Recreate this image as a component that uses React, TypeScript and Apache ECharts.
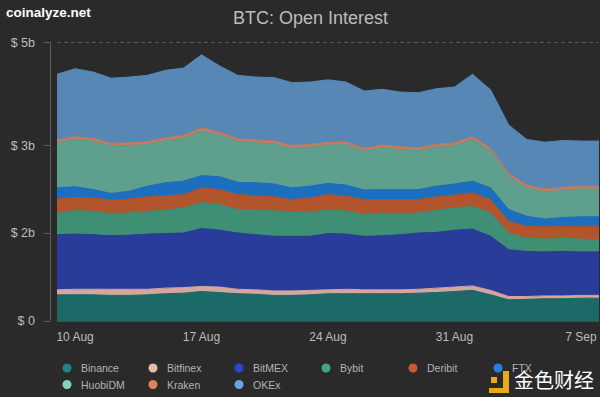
import React, { useEffect, useRef } from "react";
import * as echarts from "echarts";

const categories = [
  "9 Aug", "10 Aug", "11 Aug", "12 Aug", "13 Aug", "14 Aug", "15 Aug", "16 Aug",
  "17 Aug", "18 Aug", "19 Aug", "20 Aug", "21 Aug", "22 Aug", "23 Aug", "24 Aug",
  "25 Aug", "26 Aug", "27 Aug", "28 Aug", "29 Aug", "30 Aug", "31 Aug", "1 Sep",
  "2 Sep", "3 Sep", "4 Sep", "5 Sep", "6 Sep", "7 Sep", "8 Sep",
];
const xLabelIndices = [1, 8, 15, 22, 29];

const binance = [0.47, 0.47, 0.47, 0.46, 0.46, 0.47, 0.49, 0.5, 0.53, 0.51, 0.49, 0.48, 0.46, 0.46, 0.47, 0.49, 0.49, 0.49, 0.49, 0.49, 0.5, 0.51, 0.53, 0.55, 0.47, 0.38, 0.39, 0.4, 0.4, 0.41, 0.41];
const bitfinex = [0.09, 0.1, 0.1, 0.11, 0.11, 0.1, 0.1, 0.1, 0.09, 0.1, 0.08, 0.08, 0.08, 0.08, 0.08, 0.07, 0.08, 0.07, 0.07, 0.07, 0.07, 0.08, 0.08, 0.08, 0.08, 0.06, 0.05, 0.05, 0.05, 0.05, 0.05];
const bitmex = [0.99, 0.99, 0.98, 0.96, 0.97, 0.99, 0.98, 0.98, 1.04, 1.02, 1.01, 0.99, 0.98, 0.98, 0.97, 1.01, 0.99, 0.96, 0.97, 0.99, 1.01, 1.0, 1.02, 1.02, 0.97, 0.84, 0.81, 0.79, 0.8, 0.78, 0.78];
const bybit = [0.39, 0.42, 0.42, 0.4, 0.4, 0.41, 0.42, 0.45, 0.47, 0.46, 0.42, 0.45, 0.46, 0.44, 0.43, 0.43, 0.42, 0.39, 0.41, 0.38, 0.36, 0.4, 0.4, 0.41, 0.42, 0.3, 0.24, 0.23, 0.24, 0.23, 0.22];
const deribit = [0.25, 0.24, 0.24, 0.24, 0.25, 0.26, 0.26, 0.24, 0.26, 0.27, 0.27, 0.25, 0.25, 0.22, 0.26, 0.27, 0.26, 0.27, 0.24, 0.25, 0.24, 0.24, 0.23, 0.24, 0.24, 0.21, 0.21, 0.22, 0.21, 0.23, 0.24];
const ftx = [0.2, 0.19, 0.15, 0.12, 0.14, 0.19, 0.23, 0.24, 0.22, 0.23, 0.22, 0.23, 0.23, 0.21, 0.21, 0.2, 0.2, 0.17, 0.18, 0.18, 0.18, 0.19, 0.2, 0.21, 0.21, 0.21, 0.18, 0.14, 0.16, 0.17, 0.17];
const huobidm = [0.81, 0.85, 0.87, 0.85, 0.82, 0.75, 0.76, 0.77, 0.8, 0.75, 0.73, 0.72, 0.72, 0.71, 0.7, 0.69, 0.73, 0.7, 0.75, 0.72, 0.7, 0.7, 0.69, 0.75, 0.66, 0.6, 0.51, 0.49, 0.49, 0.5, 0.5];
const kraken = [0.05, 0.05, 0.05, 0.05, 0.05, 0.05, 0.05, 0.05, 0.06, 0.05, 0.05, 0.05, 0.05, 0.05, 0.05, 0.05, 0.05, 0.05, 0.05, 0.05, 0.05, 0.05, 0.05, 0.05, 0.05, 0.05, 0.05, 0.05, 0.05, 0.05, 0.05];
const okex = [1.18, 1.22, 1.19, 1.17, 1.18, 1.19, 1.21, 1.21, 1.31, 1.19, 1.14, 1.13, 1.14, 1.13, 1.12, 1.12, 1.07, 1.03, 1.0, 0.98, 0.99, 1.0, 1.0, 1.12, 1.05, 0.87, 0.82, 0.84, 0.84, 0.81, 0.81];

const yTickValues = [0, 1.58, 3.15, 5];
const yTickLabels = ["$ 0", "$ 2b", "$ 3b", "$ 5b"];
const yMax = 5;

const seriesNames = ["Binance", "Bitfinex", "BitMEX", "Bybit", "Deribit", "FTX", "HuobiDM", "Kraken", "OKEx"];
const seriesValues = [binance, bitfinex, bitmex, bybit, deribit, ftx, huobidm, kraken, okex];
const legendColors = ["#1f8580", "#e6bcae", "#2a45cf", "#45a583", "#c95a32", "#2582dc", "#82d2c2", "#e0825a", "#6aa4dc"];
const areaColors = ["#1b6a67", "#d3a7a0", "#2a3c99", "#3f8f75", "#b2542c", "#1c6fbe", "#5e9f8d", "#c57c62", "#5787b5"];

const legendColumns = [
  ["Binance", "HuobiDM"],
  ["Bitfinex", "Kraken"],
  ["BitMEX", "OKEx"],
  ["Bybit"],
  ["Deribit"],
  ["FTX"],
];
const legendColumnLefts = [62.5, 148.5, 234.5, 321.5, 408.5, 493.5];

const FONT = "Liberation Sans, Arial, sans-serif";

export default function App() {
  const ref = useRef<HTMLDivElement>(null);
  useEffect(() => {
    const chart = echarts.init(ref.current!, null, { renderer: "svg" });
    const series: any[] = seriesNames.map((name, i) => ({
      name,
      type: "line",
      stack: "oi",
      data: seriesValues[i],
      symbol: "none",
      showSymbol: false,
      itemStyle: { color: legendColors[i] },
      lineStyle: { width: 1, color: areaColors[i] },
      areaStyle: { color: areaColors[i], opacity: 1 },
      emphasis: { disabled: true },
    }));
    series[series.length - 1].markLine = {
      silent: true,
      symbol: ["none", "none"],
      label: { show: false },
      lineStyle: { color: "#575757", type: [4, 3], width: 1 },
      data: [{ yAxis: yMax }],
    };
    const legends = legendColumns.map((names, c) => ({
      left: legendColumnLefts[c],
      top: 362,
      orient: "vertical",
      itemWidth: 18,
      itemHeight: 9,
      itemGap: 4.5,
      padding: 0,
      icon: "circle",
      itemStyle: { borderWidth: 0 },
      textStyle: { color: "#b4b4b4", fontSize: 10.5, fontFamily: FONT, lineHeight: 12 },
      data: names,
    }));
    chart.setOption({
      animation: false,
      backgroundColor: "#2a2a2a",
      title: {
        text: "BTC: Open Interest",
        left: 228,
        top: 4,
        textStyle: { color: "#bdbdbd", fontSize: 18, fontWeight: "normal", fontFamily: FONT },
      },
      legend: legends,
      grid: { left: 57, right: 1, top: 42.5, bottom: 76 },
      xAxis: {
        type: "category",
        data: categories,
        boundaryGap: false,
        axisLine: { show: true, lineStyle: { color: "#4a4a4a", width: 1 } },
        axisTick: { show: false },
        axisLabel: {
          interval: (index: number) => xLabelIndices.includes(index),
          color: "#bcbcbc",
          fontSize: 12,
          fontFamily: FONT,
          margin: 10,
        },
        splitLine: { show: false },
      },
      yAxis: {
        type: "value",
        min: 0,
        max: yMax,
        offset: 7,
        axisLine: { show: true, lineStyle: { color: "#5e5e5e", width: 1 } },
        axisTick: { show: true, length: 6, customValues: yTickValues, lineStyle: { color: "#5e5e5e" } },
        axisLabel: {
          customValues: yTickValues,
          formatter: (v: number) => {
            const idx = yTickValues.findIndex((t) => Math.abs(t - v) < 1e-6);
            return idx >= 0 ? yTickLabels[idx] : "";
          },
          color: "#bcbcbc",
          fontSize: 12.5,
          fontFamily: FONT,
          margin: 15,
        },
        splitLine: { show: false },
      },
      graphic: [
        {
          type: "text",
          left: 6,
          top: 5,
          style: { text: "coinalyze.net", fill: "#ffffff", font: `bold 13.5px ${FONT}` },
        },
        {
          type: "group",
          left: 489,
          top: 369,
          z: 100,
          children: [
            { type: "rect", shape: { x: 14, y: 4, width: 6, height: 22 }, style: { fill: "#eaa91c" } },
            { type: "rect", shape: { x: 0, y: 21, width: 20, height: 5 }, style: { fill: "#eaa91c" } },
            { type: "rect", shape: { x: 2, y: 10, width: 6, height: 6 }, style: { fill: "#eaa91c" } },
            {
              type: "text",
              x: 25,
              y: 2,
              style: { text: "金色财经", fill: "#ffffff", font: `20px "Noto Sans CJK SC"` },
            },
          ],
        },
      ],
      series,
    });
    return () => chart.dispose();
  }, []);
  return <div ref={ref} style={{ position: "fixed", left: 0, top: 0, width: 600, height: 397 }} />;
}
